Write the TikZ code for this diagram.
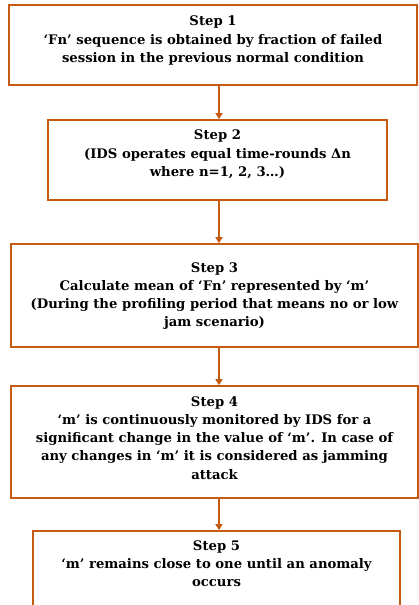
\documentclass[tikz,border=0pt]{standalone}
\usepackage{fontspec}
\setmainfont{DejaVu Serif}
\usetikzlibrary{arrows.meta}
\definecolor{boxorange}{HTML}{C55A11}
\begin{document}
\begin{tikzpicture}[x=1pt,y=-1pt,
  box/.style={draw=boxorange, line width=1.6pt, rectangle, inner sep=0pt, fill=white},
  txt/.style={anchor=north, inner sep=0pt, align=center, font=\fontsize{13.2}{18.3}\selectfont\bfseries},
  arr/.style={draw=boxorange, line width=1.6pt, -{Triangle[length=6pt,width=7pt]}}]
\useasboundingbox (0,0) rectangle (419,605);
\begin{scope}
\clip (0,0) rectangle (419,605);
\node[box, minimum width=408pt, minimum height=80pt] (b1) at (213,45) {};
\node[box, minimum width=339pt, minimum height=80pt] (b2) at (217.5,160) {};
\node[box, minimum width=407pt, minimum height=103pt] (b3) at (214.5,295.5) {};
\node[box, minimum width=407pt, minimum height=112pt] (b4) at (214.5,442) {};
\node[box, minimum width=367pt, minimum height=90pt] (b5) at (216.5,576) {};
\end{scope}
\node[txt] (t1) at (213,16) {Step 1\\‘Fn’ sequence is obtained by fraction of failed\\session in the previous normal condition};
\node[txt] (t2) at (217.5,130) {Step 2\\(IDS operates equal time-rounds Δn\\where n=1, 2, 3…)};
\node[txt] (t3) at (214.5,262) {Step 3\\Calculate mean of ‘Fn’ represented by ‘m’\\(During the profiling period that means no or low\\jam scenario)};
\node[txt] (t4) at (214.5,396) {Step 4\\‘m’ is continuously monitored by IDS for a\\significant change in the value of ‘m’. In case of\\any changes in ‘m’ it is considered as jamming\\attack};
\node[txt] (t5) at (216.5,540) {Step 5\\‘m’ remains close to one until an anomaly\\occurs};
\coordinate (ax) at (219,0);
\draw[arr] (b1.south -| ax) -- (b2.north -| ax);
\draw[arr] (b2.south -| ax) -- (b3.north -| ax);
\draw[arr] (b3.south -| ax) -- (b4.north -| ax);
\draw[arr] (b4.south -| ax) -- (b5.north -| ax);
\end{tikzpicture}
\end{document}
